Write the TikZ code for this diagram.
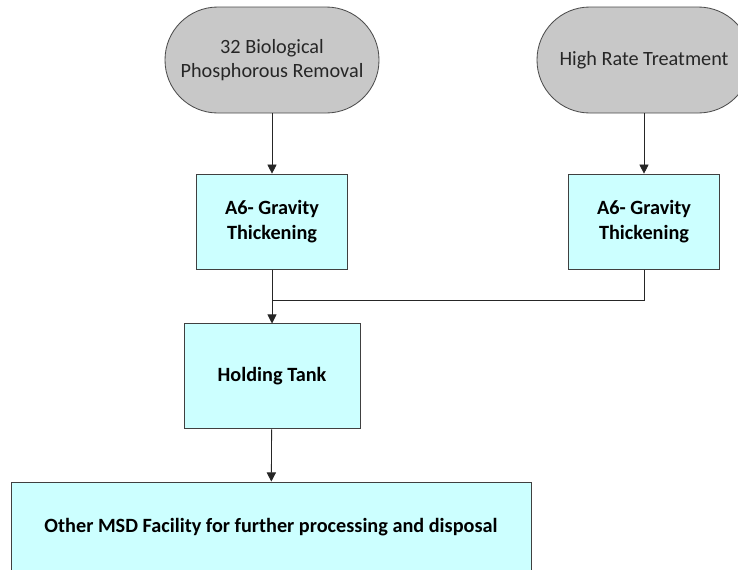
\documentclass[tikz,border=0pt]{standalone}
\usepackage{fontspec}
\setmainfont{Carlito}
\usetikzlibrary{arrows.meta}
\definecolor{termgray}{RGB}{200,200,200}
\definecolor{boxcyan}{RGB}{204,255,255}
\definecolor{textgray}{RGB}{38,38,38}
\def\leftcol{6.8}
\def\rightcol{16.1}

\begin{document}
\begin{tikzpicture}[->,>={Triangle[length=6.5pt,width=6.5pt]},draw=black!85,line width=0.6pt]
    \tikzstyle{every node}=[font=\fontsize{14.4}{17.6}\selectfont]
    \tikzstyle{terminal}=[draw=black!70,fill=termgray,text=textgray,rounded corners=1.32cm,
        minimum width=5.35cm,minimum height=2.65cm,align=center,inner sep=0pt]
    \tikzstyle{process}=[draw=black!75,fill=boxcyan,align=center,inner sep=0pt,
        font=\fontsize{14.4}{17.6}\selectfont\bfseries]

    \useasboundingbox (0,0) rectangle (18.45,-14.225);
    \clip (0,0) rectangle (18.45,-14.225);

    % Draw the sources
    \node[terminal] (T-1) at (\leftcol,-1.5) {32 Biological\\Phosphorous Removal};
    \node[terminal] (T-2) at (\rightcol,-1.5) {High Rate Treatment};

    % Draw the thickening boxes
    \node[process,minimum width=3.78cm,minimum height=2.375cm] (G-1) at (\leftcol,-5.54) {A6- Gravity\\Thickening};
    \node[process,minimum width=3.78cm,minimum height=2.375cm] (G-2) at (\rightcol,-5.54) {A6- Gravity\\Thickening};

    % Holding tank and final facility
    \node[process,minimum width=4.4cm,minimum height=2.625cm] (H) at (\leftcol,-9.41) {Holding Tank};
    \node[process,minimum width=13cm,minimum height=2.25cm] (O) at (6.775,-13.175)
        {Other MSD Facility for further processing and disposal};

    \coordinate (J) at (\leftcol,-7.5);

    % Connect everything
    \path (T-1) edge (G-1);
    \path (T-2) edge (G-2);
    \path (G-1) edge (H);
    \draw[-] (G-2.south) |- (J);
    \path (H) edge (O);
\end{tikzpicture}
\end{document}
